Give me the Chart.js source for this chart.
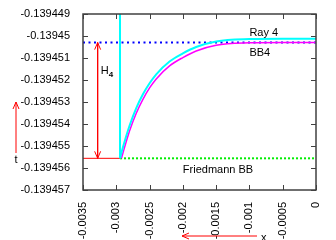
<!DOCTYPE html>
<html>
<head>
<meta charset="utf-8">
<script src="https://cdn.jsdelivr.net/npm/chart.js@4/dist/chart.umd.min.js"></script>
<style>
html, body { margin: 0; padding: 0; background: #fff; }
#wrap { width: 336px; height: 240px; }
</style>
</head>
<body>
<div id="wrap"><canvas id="chart"></canvas></div>
<script>
const xTicks = [-0.0035, -0.003, -0.0025, -0.002, -0.0015, -0.001, -0.0005, 0];
const yTicks = [-0.139449, -0.13945, -0.139451, -0.139452, -0.139453, -0.139454, -0.139455, -0.139456, -0.139457];

// Ray 4 (cyan) and BB4 (magenta)
const rayX = [-0.002944, -0.0029, -0.0028, -0.0027, -0.0026, -0.0025, -0.0024, -0.0022, -0.002, -0.0018, -0.0015, -0.001, -0.0005, 0];
const rayY = [-0.13945556, -0.13945506, -0.13945407, -0.13945328, -0.13945265, -0.13945215, -0.13945174, -0.13945116, -0.13945079, -0.1394505, -0.13945025, -0.13945014, -0.13945012, -0.13945012];
const bb4X = [-0.002922, -0.0029, -0.0028, -0.0027, -0.0026, -0.0025, -0.0024, -0.0022, -0.002, -0.0018, -0.0015, -0.001, -0.0005, 0];
const bb4Y = [-0.13945556, -0.13945532, -0.13945431, -0.13945351, -0.13945288, -0.13945236, -0.13945195, -0.13945136, -0.13945098, -0.13945068, -0.13945042, -0.13945031, -0.13945029, -0.13945029];

// vertical cyan ray line
const rayVertX = [-0.002944, -0.002944];
const rayVertY = [-0.13945556, -0.139449];

// Friedmann BB level: red before the ray, green dotted after
const friedRedX = [-0.0035, -0.002944];
const friedGreenX = [-0.002944, 0];
const friedLevel = -0.13945556;

// blue dotted level and H4 arrow
const topX = [-0.0035, 0];
const topLevel = -0.1394503;
const h4X = -0.00328;

function pts(xs, ys) {
    return xs.map(function (v, i) { return { x: v, y: Array.isArray(ys) ? ys[i] : ys }; });
}

const font = { family: 'Liberation Sans, Arial, sans-serif', size: 11 };

const decor = {
    id: 'decor',
    afterDatasetsDraw(chart) {
        const ctx = chart.ctx;
        const a = chart.chartArea;
        const x = chart.scales.x, y = chart.scales.y;
        function seg(x1, y1, x2, y2) {
            ctx.beginPath(); ctx.moveTo(x1, y1); ctx.lineTo(x2, y2); ctx.stroke();
        }
        function head(tx, ty, dx, dy) {
            // open V arrow head, dx/dy = direction of travel
            const len = 7, half = 3;
            const bx = tx - dx * len, by = ty - dy * len;
            seg(tx, ty, bx - dy * half, by + dx * half);
            seg(tx, ty, bx + dy * half, by - dx * half);
        }
        ctx.save();

        // inward ticks on all sides
        ctx.strokeStyle = '#404040';
        ctx.lineWidth = 1;
        xTicks.forEach(function (v) {
            const px = Math.round(x.getPixelForValue(v)) + 0.5;
            seg(px, a.bottom, px, a.bottom - 5);
            seg(px, a.top, px, a.top + 5);
        });
        yTicks.forEach(function (v) {
            const py = Math.round(y.getPixelForValue(v)) + 0.5;
            seg(a.left, py, a.left + 5, py);
            seg(a.right, py, a.right - 5, py);
        });
        ctx.lineWidth = 1.5;
        ctx.strokeRect(a.left, a.top, a.right - a.left, a.bottom - a.top);

        // arrow heads
        ctx.strokeStyle = '#ff0000';
        ctx.lineWidth = 1;
        const hx = x.getPixelForValue(h4X);
        head(hx, y.getPixelForValue(topLevel), 0, -1);
        head(hx, y.getPixelForValue(friedLevel), 0, 1);

        // axis direction arrows outside the plot
        seg(16, 153, 16, 102);
        head(16, 102, 0, -1);
        seg(257, 236, 182, 236);
        head(182, 236, -1, 0);

        // labels
        ctx.fillStyle = '#000';
        ctx.textBaseline = 'alphabetic';
        ctx.font = '11px Liberation Sans, Arial, sans-serif';
        ctx.textAlign = 'left';
        ctx.fillText('Ray 4', x.getPixelForValue(-0.001), y.getPixelForValue(-0.13944998));
        ctx.fillText('BB4', x.getPixelForValue(-0.001), y.getPixelForValue(-0.13945091));
        ctx.fillText('Friedmann BB', x.getPixelForValue(-0.002), y.getPixelForValue(-0.13945621));
        const hpx = x.getPixelForValue(-0.003234), hpy = y.getPixelForValue(-0.13945173);
        ctx.fillText('H', hpx, hpy);
        ctx.font = 'bold 8px Liberation Sans, Arial, sans-serif';
        ctx.fillText('4', hpx + 8, hpy + 3);
        ctx.font = '11px Liberation Sans, Arial, sans-serif';
        ctx.textAlign = 'center';
        ctx.fillText('t', 16, 163);
        ctx.textAlign = 'left';
        ctx.fillText('x', 261, 241);
        ctx.restore();
    }
};

new Chart(document.getElementById('chart'), {
    type: 'line',
    data: {
        datasets: [
            { label: 'Ray 4', data: pts(rayX, rayY), borderColor: '#00ffff', borderWidth: 2, cubicInterpolationMode: 'monotone' },
            { label: 'Ray 4 vertical', data: pts(rayVertX, rayVertY), borderColor: '#00ffff', borderWidth: 2 },
            { label: 'BB4', data: pts(bb4X, bb4Y), borderColor: '#ff00ff', borderWidth: 1.5, cubicInterpolationMode: 'monotone' },
            { label: 'Top level', data: pts(topX, topLevel), borderColor: '#0000ff', borderWidth: 2, borderDash: [2, 3.5] },
            { label: 'Friedmann', data: pts(friedRedX, friedLevel), borderColor: '#ff0000', borderWidth: 1 },
            { label: 'Friedmann BB', data: pts(friedGreenX, friedLevel), borderColor: '#00ee00', borderWidth: 2, borderDash: [2, 2] },
            { label: 'H4', data: pts([h4X, h4X], [topLevel, friedLevel]), borderColor: '#ff0000', borderWidth: 1 }
        ]
    },
    options: {
        responsive: true,
        maintainAspectRatio: false,
        animation: false,
        parsing: false,
        elements: { point: { radius: 0 }, line: { fill: false } },
        layout: { padding: { top: 14, right: 20, left: 0, bottom: 0 } },
        plugins: { legend: { display: false }, tooltip: { enabled: false } },
        scales: {
            x: {
                type: 'linear',
                min: -0.0035,
                max: 0,
                afterBuildTicks: function (s) { s.ticks = xTicks.map(function (v) { return { value: v }; }); },
                afterFit: function (s) { s.height = 50; },
                grid: { display: false },
                border: { display: false },
                ticks: {
                    color: '#000', font: font, padding: 4, minRotation: 90, maxRotation: 90,
                    callback: function (v) { return String(+v.toFixed(6)); }
                }
            },
            y: {
                type: 'linear',
                min: -0.139457,
                max: -0.139449,
                afterBuildTicks: function (s) { s.ticks = yTicks.map(function (v) { return { value: v }; }); },
                afterFit: function (s) { s.width = 83; },
                grid: { display: false },
                border: { display: false },
                ticks: {
                    color: '#000', font: font, padding: 5,
                    callback: function (v) { return String(+v.toFixed(7)); }
                }
            }
        }
    },
    plugins: [decor]
});
</script>
</body>
</html>
